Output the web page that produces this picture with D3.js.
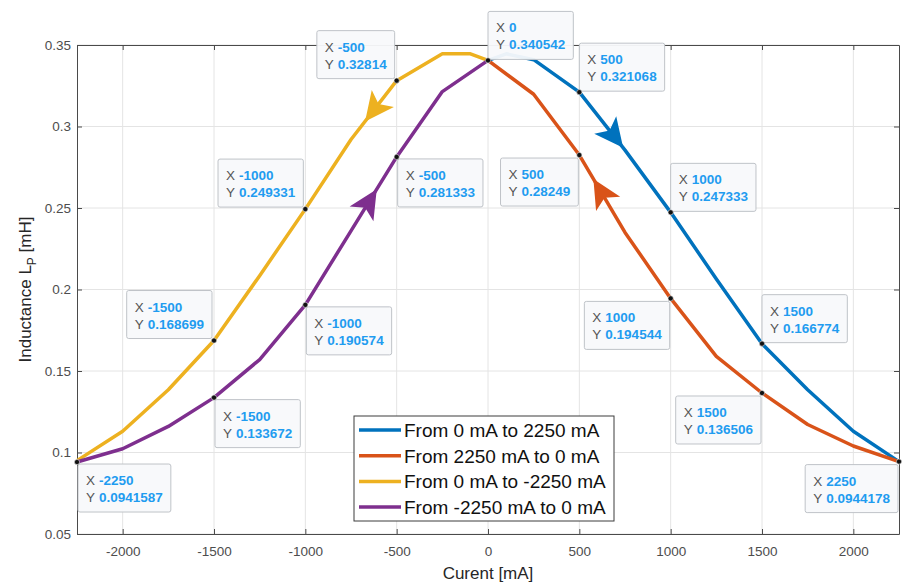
<!DOCTYPE html>
<html>
<head>
<meta charset="utf-8">
<script src="https://cdn.jsdelivr.net/npm/d3@7"></script>
<style>
  body { margin: 0; background: #fff; }
  svg { display: block; font-family: "Liberation Sans", Arial, sans-serif; }
</style>
</head>
<body>
<div id="chart"></div>
<script>
// values (x in mA, y in mH), in the order each sweep was run
var blueX = [0, 100, 250, 500, 750, 1000, 1250, 1500, 1750, 2000, 2250];
var blueY = [0.340542, 0.3446, 0.3410, 0.321068, 0.2855, 0.247333, 0.2065, 0.166774, 0.1385, 0.1130, 0.0944178];

var orangeX = [2250, 2000, 1750, 1500, 1250, 1000, 750, 500, 250, 0];
var orangeY = [0.0944178, 0.1040, 0.1172, 0.136506, 0.1590, 0.194544, 0.2350, 0.28249, 0.3198, 0.340542];

var yellowX = [0, -100, -250, -500, -750, -1000, -1250, -1500, -1750, -2000, -2250];
var yellowY = [0.340542, 0.3447, 0.3447, 0.32814, 0.2920, 0.249331, 0.2085, 0.168699, 0.1385, 0.1130, 0.0950];

var purpleX = [-2250, -2000, -1750, -1500, -1250, -1000, -750, -500, -250, 0];
var purpleY = [0.0941587, 0.1023, 0.1160, 0.133672, 0.1570, 0.190574, 0.2360, 0.281333, 0.3214, 0.340542];

var legendLabels = ["From 0 mA to 2250 mA", "From 2250 mA to 0 mA", "From 0 mA to -2250 mA", "From -2250 mA to 0 mA"];

var xTicks = [-2000, -1500, -1000, -500, 0, 500, 1000, 1500, 2000];
var xTickLabels = ["-2000", "-1500", "-1000", "-500", "0", "500", "1000", "1500", "2000"];
var yTicks = [0.05, 0.1, 0.15, 0.2, 0.25, 0.3, 0.35];
var yTickLabels = ["0.05", "0.1", "0.15", "0.2", "0.25", "0.3", "0.35"];

var series = [
  {key: "blue", xs: blueX, ys: blueY, color: "#0072BD", arrowAt: 740},
  {key: "orange", xs: orangeX, ys: orangeY, color: "#D95319", arrowAt: 577},
  {key: "yellow", xs: yellowX, ys: yellowY, color: "#EDB120", arrowAt: -673},
  {key: "purple", xs: purpleX, ys: purpleY, color: "#7E2F8E", arrowAt: -609}
];

// data tips: which series / which x, and on which side of the point the box sits
var tips = [
  {s: "yellow", x: -500, pos: "ul"}, {s: "blue", x: 0, pos: "ur"},
  {s: "blue", x: 500, pos: "ur"}, {s: "yellow", x: -1000, pos: "ul"},
  {s: "purple", x: -500, pos: "lr"}, {s: "orange", x: 500, pos: "ll"},
  {s: "blue", x: 1000, pos: "ur"}, {s: "yellow", x: -1500, pos: "ul"},
  {s: "purple", x: -1000, pos: "lr"}, {s: "orange", x: 1000, pos: "ll"},
  {s: "blue", x: 1500, pos: "ur"}, {s: "purple", x: -1500, pos: "lr"},
  {s: "orange", x: 1500, pos: "ll"}, {s: "purple", x: -2250, pos: "lr"},
  {s: "blue", x: 2250, pos: "ll"}
];

var width = 906, height = 584;
var L = 77, R = 899, T = 45, B = 534;

var x = d3.scaleLinear().domain([-2250, 2250]).range([L, R]);
var y = d3.scaleLinear().domain([0.05, 0.35]).range([B, T]);

var svg = d3.select("#chart").append("svg").attr("width", width).attr("height", height);

// grid
var grid = svg.append("g").attr("stroke", "#e4e4e4").attr("stroke-width", 1);
grid.selectAll("line.gx").data(xTicks).enter().append("line")
  .attr("x1", function(d) { return x(d); }).attr("x2", function(d) { return x(d); })
  .attr("y1", T).attr("y2", B);
grid.selectAll("line.gy").data(yTicks).enter().append("line")
  .attr("y1", function(d) { return y(d); }).attr("y2", function(d) { return y(d); })
  .attr("x1", L).attr("x2", R);

// axes (box with inward ticks, like MATLAB)
function styleAxis(g) {
  g.select(".domain").attr("stroke", "#4a4a4a");
  g.selectAll(".tick line").attr("stroke", "#4a4a4a");
  g.selectAll(".tick text").attr("fill", "#4d4d4d").style("font-size", "13.5px")
    .style("font-family", "'Liberation Sans', Arial, sans-serif");
}
svg.append("g").attr("transform", "translate(0," + B + ")")
  .call(d3.axisBottom(x).tickValues(xTicks).tickSizeInner(-5).tickSizeOuter(0).tickPadding(12)
    .tickFormat(function(d, i) { return xTickLabels[i]; }))
  .call(styleAxis);
svg.append("g").attr("transform", "translate(0," + T + ")")
  .call(d3.axisTop(x).tickValues(xTicks).tickSizeInner(-5).tickSizeOuter(0).tickFormat(""))
  .call(styleAxis);
svg.append("g").attr("transform", "translate(" + L + ",0)")
  .call(d3.axisLeft(y).tickValues(yTicks).tickSizeInner(-5).tickSizeOuter(0).tickPadding(6)
    .tickFormat(function(d, i) { return yTickLabels[i]; }))
  .call(styleAxis);
svg.append("g").attr("transform", "translate(" + R + ",0)")
  .call(d3.axisRight(y).tickValues(yTicks).tickSizeInner(-5).tickSizeOuter(0).tickFormat(""))
  .call(styleAxis);

// axis labels
svg.append("text").attr("x", (L + R) / 2).attr("y", 579).attr("text-anchor", "middle")
  .attr("fill", "#262626").style("font-size", "17px").text("Curent [mA]");
var yl = svg.append("text").attr("transform", "translate(31," + (T + B) / 2 + ") rotate(-90)")
  .attr("text-anchor", "middle").attr("fill", "#262626").style("font-size", "17px");
yl.append("tspan").text("Inductance L");
yl.append("tspan").attr("dy", 5).style("font-size", "12px").text("P");
yl.append("tspan").attr("dy", -5).text(" [mH]");

// curves
var line = d3.line().x(function(d) { return x(d[0]); }).y(function(d) { return y(d[1]); });
series.forEach(function(s) {
  s.pts = d3.zip(s.xs, s.ys);
});
svg.append("g").selectAll("path").data(series).enter().append("path")
  .attr("d", function(s) { return line(s.pts); })
  .attr("fill", "none")
  .attr("stroke", function(s) { return s.color; })
  .attr("stroke-width", 3.5)
  .attr("stroke-linejoin", "round");

// direction arrows
function arrowPath(s) {
  var p = s.pts, i, a, b, t;
  for (i = 0; i < p.length - 1; i++) {
    a = p[i]; b = p[i + 1];
    if ((s.arrowAt - a[0]) * (s.arrowAt - b[0]) <= 0 && a[0] !== b[0]) break;
  }
  t = (s.arrowAt - a[0]) / (b[0] - a[0]);
  var ax = x(a[0]), ay = y(a[1]), bx = x(b[0]), by = y(b[1]);
  var tx = ax + t * (bx - ax), ty = ay + t * (by - ay);
  var len = Math.hypot(bx - ax, by - ay), dx = (bx - ax) / len, dy = (by - ay) / len;
  var nx = -dy, ny = dx, lg = 29, hw = 14, notch = 7;
  var cx = tx - lg * dx, cy = ty - lg * dy;
  return "M" + tx + "," + ty +
    "L" + (cx + hw * nx) + "," + (cy + hw * ny) +
    "L" + (tx - (lg - notch) * dx) + "," + (ty - (lg - notch) * dy) +
    "L" + (cx - hw * nx) + "," + (cy - hw * ny) + "Z";
}
svg.append("g").selectAll("path").data(series).enter().append("path")
  .attr("d", arrowPath)
  .attr("fill", function(s) { return s.color; });

// data tips
var byKey = {};
series.forEach(function(s) { byKey[s.key] = s; });
var tipG = svg.append("g");
tips.forEach(function(tp) {
  var s = byKey[tp.s];
  var yv = s.ys[s.xs.indexOf(tp.x)];
  var px = x(tp.x), py = y(yv);
  var g = tipG.append("g");
  var rect = g.append("rect").attr("height", 48).attr("rx", 2)
    .attr("fill", "#f8f9fb").attr("fill-opacity", 0.95)
    .attr("stroke", "#bfc3c8").attr("stroke-width", 1);
  var t1 = g.append("text").style("font-size", "13.5px");
  t1.append("tspan").attr("fill", "#555").text("X");
  var v1 = t1.append("tspan").attr("fill", "#1f9cf0").style("font-weight", "bold").text(String(tp.x));
  var t2 = g.append("text").style("font-size", "13.5px");
  t2.append("tspan").attr("fill", "#555").text("Y");
  var v2 = t2.append("tspan").attr("fill", "#1f9cf0").style("font-weight", "bold").text(String(yv));
  var w = 21 + Math.max(v1.node().getComputedTextLength(), v2.node().getComputedTextLength()) + 8;
  var bx, by;
  if (tp.pos === "ul") { bx = px - 2 - w; by = py - 2 - 48; }
  else if (tp.pos === "ur") { bx = px; by = py - 1 - 48; }
  else if (tp.pos === "lr") { bx = px + 1; by = py + 2; }
  else { bx = px - 1 - w; by = py + 3; }
  rect.attr("x", bx).attr("y", by).attr("width", w);
  t1.attr("y", by + 21);
  t1.select("tspan").attr("x", bx + 8);
  v1.attr("x", bx + 21);
  t2.attr("y", by + 38);
  t2.select("tspan").attr("x", bx + 8);
  v2.attr("x", bx + 21);
  svg.append("circle").attr("cx", px).attr("cy", py).attr("r", 2.6)
    .attr("fill", "#111").attr("stroke", "#e8e8e8").attr("stroke-width", 0.6);
});

// legend
var lg = svg.append("g").attr("transform", "translate(354,416)");
lg.append("rect").attr("width", 260).attr("height", 105)
  .attr("fill", "#fff").attr("stroke", "#3c3c3c").attr("stroke-width", 1);
var item = lg.selectAll("g.item").data(series).enter().append("g")
  .attr("transform", function(d, i) { return "translate(0," + (14 + i * 25.7) + ")"; });
item.append("line").attr("x1", 5).attr("x2", 47).attr("y1", 0).attr("y2", 0)
  .attr("stroke", function(d) { return d.color; }).attr("stroke-width", 3.5);
item.append("text").attr("x", 50).attr("y", 0).attr("dy", "0.36em")
  .attr("fill", "#111").style("font-size", "19px")
  .text(function(d, i) { return legendLabels[i]; });
</script>
</body>
</html>
